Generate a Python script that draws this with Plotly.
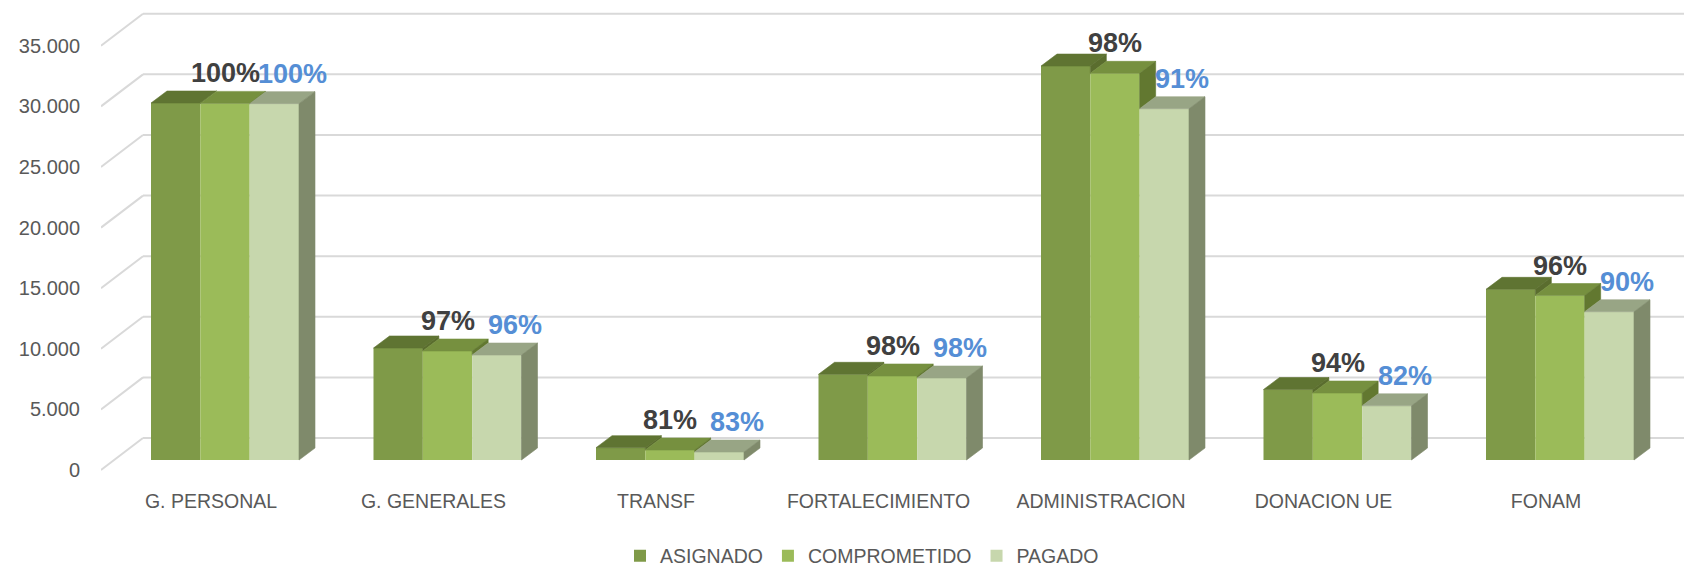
import plotly.graph_objects as go

# ---------------- data ----------------
categories = ["G. PERSONAL", "G. GENERALES", "TRANSF", "FORTALECIMIENTO",
              "ADMINISTRACION", "DONACION UE", "FONAM"]
asignado = [29450, 9240, 1015, 7070, 32500, 5815, 14080]
comprometido = [29420, 8990, 825, 6930, 31900, 5525, 13570]
pagado = [29400, 8660, 660, 6765, 28980, 4470, 12230]
pct_comprometido = ["100%", "97%", "81%", "98%", "98%", "94%", "96%"]
pct_pagado = ["100%", "96%", "83%", "98%", "91%", "82%", "90%"]
tick_vals = [0, 5000, 10000, 15000, 20000, 25000, 30000, 35000]
tick_text = ["0", "5.000", "10.000", "15.000", "20.000", "25.000", "30.000", "35.000"]

series = [
    ("ASIGNADO", asignado, "#7F9A48", "#5F7432", "#5A6D2E"),
    ("COMPROMETIDO", comprometido, "#9BBB59", "#76903F", "#627830"),
    ("PAGADO", pagado, "#C7D7AD", "#98A585", "#7F8A6B"),
]

# ---------------- geometry (pixel -> data) ----------------
W, H = 1684, 567
ML, MR, MT, MB = 101, 0, 0, 87
px_per_cat = 222.5
first_center_px = 225
units_per_px = 82.5
x0 = -(first_center_px - ML) / px_per_cat
x1 = x0 + (W - ML - MR) / px_per_cat
plot_h = H - MT - MB
base_px = 460
y0 = -(plot_h - (base_px - MT)) * units_per_px
y1 = (base_px - MT) * units_per_px

group_w = 148 / px_per_cat
bw = group_w / 3
ddx = 16 / px_per_cat          # bar depth, x
ddy = 12 * units_per_px        # bar depth, y
wall_dx = 42 / px_per_cat      # wall depth, x
back_off = 22 * units_per_px   # back wall grid offset
front_off = 10 * units_per_px  # front edge offset

xs = list(range(len(categories)))
fig = go.Figure()

# front faces
for s, (name, vals, c_front, c_top, c_side) in enumerate(series):
    fig.add_trace(go.Bar(
        x=xs, y=vals, name=name, width=bw, offset=(s - 1) * bw - bw / 2,
        marker=dict(color=c_front, line=dict(width=0)),
        hoverinfo="skip",
    ))

# top and side faces
for s, (name, vals, c_front, c_top, c_side) in enumerate(series):
    tx, ty, sx, sy = [], [], [], []
    for i, h in enumerate(vals):
        left = i + (s - 1) * bw - bw / 2
        right = left + bw
        tx += [left, right, right + ddx, left + ddx, left, None]
        ty += [h, h, h + ddy, h + ddy, h, None]
        hn = series[s + 1][1][i] if s < 2 else 0
        hn = min(hn, h)
        if h > hn:
            sx += [right, right + ddx, right + ddx, right, right, None]
            sy += [hn, hn + ddy, h + ddy, h, hn, None]
    fig.add_trace(go.Scatter(x=tx, y=ty, mode="lines", fill="toself",
                             fillcolor=c_top, line=dict(color=c_top, width=0.6),
                             showlegend=False, hoverinfo="skip"))
    if sx:
        fig.add_trace(go.Scatter(x=sx, y=sy, mode="lines", fill="toself",
                                 fillcolor=c_side, line=dict(color=c_side, width=0.6),
                                 showlegend=False, hoverinfo="skip"))

# gridlines (back wall + left wall diagonals)
shapes = []
for v in tick_vals:
    shapes.append(dict(type="line", layer="below", xref="x", yref="y",
                       x0=x0 + wall_dx, x1=x1, y0=v + back_off, y1=v + back_off,
                       line=dict(color="#D9D9D9", width=2)))
    shapes.append(dict(type="line", layer="below", xref="x", yref="y",
                       x0=x0, x1=x0 + wall_dx, y0=v - front_off, y1=v + back_off,
                       line=dict(color="#D9D9D9", width=2)))

# percentage labels
annotations = []
for i in xs:
    annotations.append(dict(x=i, y=comprometido[i], text=pct_comprometido[i],
                            showarrow=False, yshift=30, xref="x", yref="y",
                            font=dict(family="Liberation Sans", size=27,
                                      color="#404040", weight="bold")))
    annotations.append(dict(x=i + bw, y=pagado[i], text=pct_pagado[i],
                            showarrow=False, yshift=30, xshift=18, xref="x", yref="y",
                            font=dict(family="Liberation Sans", size=27,
                                      color="#558ED5", weight="bold")))

fig.update_layout(
    width=W, height=H,
    margin=dict(l=ML, r=MR, t=MT, b=MB, autoexpand=False),
    paper_bgcolor="white", plot_bgcolor="white",
    barmode="overlay",
    shapes=shapes, annotations=annotations,
    font=dict(family="Liberation Sans", color="#595959"),
    xaxis=dict(range=[x0, x1], tickvals=xs, ticktext=categories,
               showgrid=False, zeroline=False, showline=False,
               tickfont=dict(size=19.5, color="#595959"),
               ticklabelshift=-14, ticklabelstandoff=7, fixedrange=True),
    yaxis=dict(range=[y0, y1], tickvals=tick_vals, ticktext=tick_text,
               showgrid=False, zeroline=False, showline=False,
               tickfont=dict(size=20, color="#595959"),
               ticklabelshift=10, ticklabelstandoff=20, fixedrange=True),
    legend=dict(orientation="h", x=(862 - ML) / (W - ML - MR), xanchor="center",
                y=-(556 - (H - MB)) / plot_h, yanchor="middle",
                font=dict(size=19.5, color="#595959"),
                bgcolor="rgba(0,0,0,0)", traceorder="normal"),
    showlegend=True,
)

fig.write_html("out.html", config={"displayModeBar": False},
               post_script="document.body.style.margin='0';")
